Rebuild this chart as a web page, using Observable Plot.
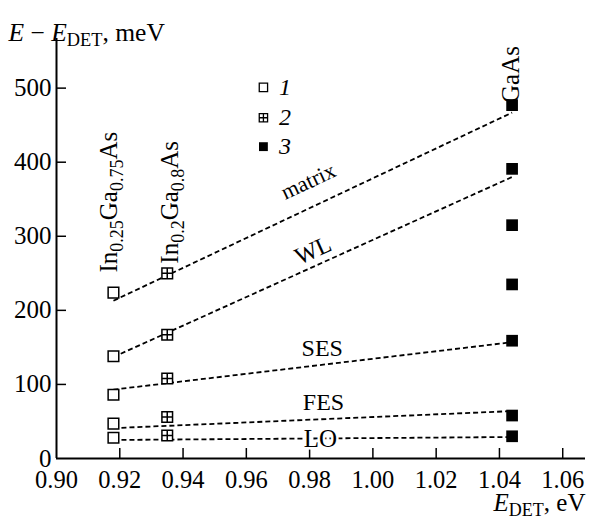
<!DOCTYPE html>
<html>
<head>
<meta charset="utf-8">
<script src="https://cdn.jsdelivr.net/npm/d3@7"></script>
<script src="https://cdn.jsdelivr.net/npm/@observablehq/plot@0.6"></script>
<style>
  html, body { margin: 0; padding: 0; background: #fff; }
  svg, svg text, svg tspan { font-family: "Liberation Serif", "DejaVu Serif", serif !important; }
</style>
</head>
<body>
<div id="chart"></div>
<script>
// ---- data ----
const detE = [0.918, 0.935, 1.044];                 // E_DET of the three samples (eV)
const set1 = [224, 138, 86, 47, 28];                 // In0.25Ga0.75As
const set2 = [250, 167, 108, 56, 31];                // In0.2Ga0.8As
const set3 = [477, 391, 315, 235, 159, 58, 30];      // GaAs
const fitNames = ["matrix", "WL", "SES", "FES", "LO"];
const fitStart = [213, 137, 93, 41, 25];             // at x = 0.918
const fitEnd = [467, 380, 157, 64, 29];              // at x = 1.044
const xTicks = [0.90, 0.92, 0.94, 0.96, 0.98, 1.00, 1.02, 1.04, 1.06];
const xTickLabels = ["0.90", "0.92", "0.94", "0.96", "0.98", "1.00", "1.02", "1.04", "1.06"];
const yTicks = [0, 100, 200, 300, 400, 500];
const legendLabels = ["1", "2", "3"];
const sampleNames = ["In_{0.25}Ga_{0.75}As", "In_{0.2}Ga_{0.8}As", "GaAs"];

// ---- layout ----
const W = 590, H = 517, mL = 56, mR = 5, mT = 38, mB = 59;
const xDom = [0.90, 1.0672], yDom = [0, 567];
const xPer = (xDom[1] - xDom[0]) / (W - mL - mR);
const yPer = (yDom[1] - yDom[0]) / (H - mT - mB);
const FONT = "Liberation Serif";

const pts1 = set1.map(v => ({x: detE[0], y: v}));
const pts2 = set2.map(v => ({x: detE[1], y: v}));
const pts3 = set3.map(v => ({x: detE[2], y: v}));
const fits = fitNames.map((n, i) => ({name: n, x1: detE[0], y1: fitStart[i], x2: detE[2], y2: fitEnd[i]}));

const gridSquare = {
  draw(context, size) {
    const s = Math.sqrt(size) / 2;
    context.moveTo(-s, -s); context.lineTo(s, -s); context.lineTo(s, s); context.lineTo(-s, s); context.closePath();
    context.moveTo(0, -s); context.lineTo(0, s);
    context.moveTo(-s, 0); context.lineTo(s, 0);
  }
};

// label placements (data coords)
const fitLabelPos = [
  {x: 0.9796, y: 374, rotate: -25, size: 22},
  {x: 0.9811, y: 281, rotate: -24, size: 24},
  {x: 0.9840, y: 149, rotate: 0, size: 24},
  {x: 0.9844, y: 76, rotate: 0, size: 24},
  {x: 0.9834, y: 27, rotate: 0, size: 25}
];
const samplePos = [
  {x: 0.9167, y: 251},
  {x: 0.9360, y: 263},
  {x: 1.0438, y: 480}
];
const legendY = [501, 460, 421];
const legendX = 0.9654, legendTextX = 0.9703;

const marks = [
  // axes lines
  Plot.ruleY([0], {stroke: "#000", strokeWidth: 2}),
  Plot.ruleX([xDom[0]], {stroke: "#000", strokeWidth: 2}),
  // inward ticks
  Plot.ruleX(xTicks.slice(1), {y1: 0, y2: 10 * yPer, stroke: "#000", strokeWidth: 1.5}),
  Plot.ruleY(yTicks.slice(1), {x1: xDom[0], x2: xDom[0] + 10 * xPer, stroke: "#000", strokeWidth: 1.5}),
  Plot.axisX({ticks: xTicks, tickSize: 0, tickPadding: 12, fontSize: 24.5, fontFamily: FONT, tickFormat: (d) => xTickLabels[xTicks.indexOf(d)], label: null}),
  Plot.axisY({ticks: yTicks, tickSize: 0, tickPadding: 5, fontSize: 25, fontFamily: FONT, label: null}),
  // fits
  Plot.link(fits, {x1: "x1", y1: "y1", x2: "x2", y2: "y2", stroke: "#000", strokeWidth: 1.8, strokeDasharray: "5,3"}),
  // fit labels
  ...fitNames.map((n, i) => Plot.text([n], {
    x: [fitLabelPos[i].x], y: [fitLabelPos[i].y], text: d => d, rotate: fitLabelPos[i].rotate,
    fontSize: fitLabelPos[i].size, fontFamily: FONT, fill: "#000", stroke: n === "LO" ? "#fff" : "none", strokeWidth: 5
  })),
  // points
  Plot.dot(pts1, {x: "x", y: "y", symbol: "square", r: 6, fill: "#fff", stroke: "#000", strokeWidth: 1.5}),
  Plot.dot(pts2, {x: "x", y: "y", symbol: gridSquare, r: 6, fill: "#fff", stroke: "#000", strokeWidth: 1.5}),
  Plot.dot(pts3, {x: "x", y: "y", symbol: "square", r: 6.6, fill: "#000", stroke: "none"}),
  // sample names (rotated)
  ...sampleNames.map((s, i) => Plot.text([s], {
    x: [samplePos[i].x], y: [samplePos[i].y], text: d => d, rotate: -90, textAnchor: "start",
    lineAnchor: "middle", fontSize: 25, fontFamily: FONT, fill: "#000"
  })),
  // legend
  Plot.dot([0], {x: legendX, y: legendY[0], symbol: "square", r: 4.7, fill: "#fff", stroke: "#000", strokeWidth: 1.3}),
  Plot.dot([0], {x: legendX, y: legendY[1], symbol: gridSquare, r: 4.7, fill: "#fff", stroke: "#000", strokeWidth: 1.3}),
  Plot.dot([0], {x: legendX, y: legendY[2], symbol: "square", r: 5, fill: "#000", stroke: "none"}),
  Plot.text(legendLabels, {x: legendTextX, y: (d, i) => legendY[i], text: d => d, textAnchor: "start", fontSize: 24, fontFamily: FONT, fontStyle: "italic", fill: "#000"}),
  // axis titles
  Plot.text(["*E* − *E*_{DET}, meV"], {frameAnchor: "top-left", text: d => d, textAnchor: "start", dx: -48, dy: -16, fontSize: 25.5, fontFamily: FONT, fill: "#000"}),
  Plot.text(["*E*_{DET}, eV"], {frameAnchor: "bottom-right", text: d => d, textAnchor: "end", dx: 0, dy: 52, fontSize: 25, fontFamily: FONT, fill: "#000"})
];

const svg = Plot.plot({
  width: W, height: H,
  marginLeft: mL, marginRight: mR, marginTop: mT, marginBottom: mB,
  x: {domain: xDom, axis: null},
  y: {domain: yDom, axis: null},
  style: {fontFamily: FONT, background: "#fff", color: "#000", overflow: "visible"},
  marks
});

// rich-text post-processing: *italic* and _{subscript}
d3.select(svg).selectAll("text").each(function () {
  const t = this.textContent;
  if (!/(\*|_\{)/.test(t) || this.querySelector("tspan")) return;
  const parts = t.split(/(_\{[^}]*\}|\*[^*]*\*)/).filter(p => p !== "");
  this.textContent = "";
  let shifted = false;
  for (const p of parts) {
    const ts = document.createElementNS("http://www.w3.org/2000/svg", "tspan");
    if (p.startsWith("_{")) {
      ts.textContent = p.slice(2, -1);
      ts.setAttribute("font-size", "72%");
      ts.setAttribute("dy", "0.3em");
      shifted = true;
    } else {
      if (p.startsWith("*")) { ts.textContent = p.slice(1, -1); ts.setAttribute("font-style", "italic"); }
      else ts.textContent = p;
      if (shifted) { ts.setAttribute("dy", "-0.216em"); shifted = false; }
    }
    this.appendChild(ts);
  }
});

document.getElementById("chart").appendChild(svg);
</script>
</body>
</html>
